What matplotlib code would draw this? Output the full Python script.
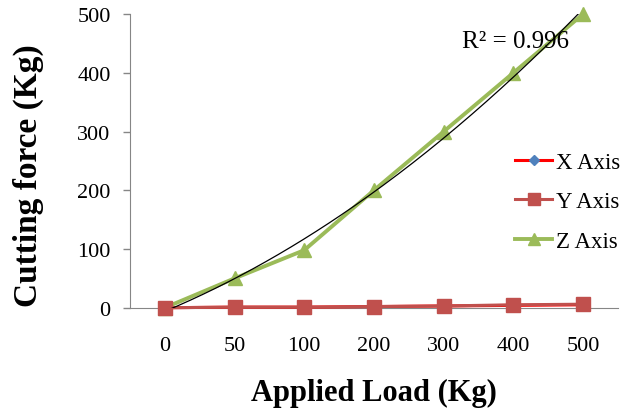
import numpy as np
import matplotlib
matplotlib.use("Agg")
import matplotlib.pyplot as plt

plt.rcParams['font.family'] = ['Liberation Serif', 'DejaVu Serif']

# data
loads = ["0", "50", "100", "200", "300", "400", "500"]
x_axis = [0, 1, 1, 2, 3, 4, 5]
y_axis = [0, 1, 1, 2, 3, 5, 6]
z_axis = [0, 50, 98, 200, 300, 400, 500]
r2_text = "R² = 0.996"

idx = np.arange(len(loads))

fig = plt.figure(figsize=(6.23, 4.10), dpi=100)
ax = fig.add_axes([0.2087, 0.247, 0.783, 0.716])

ax.plot(idx, x_axis, color="#FF0000", lw=2.2, marker="D", ms=6,
        mfc="#4F81BD", mec="#4F81BD", label="X Axis", clip_on=False, zorder=3)
ax.plot(idx, y_axis, color="#C0504D", lw=2.2, marker="s", ms=10,
        mfc="#C0504D", mec="#C0504D", label="Y Axis", clip_on=False, zorder=4)
ax.plot(idx, z_axis, color="#9BBB59", lw=2.8, marker="^", ms=10,
        mfc="#9BBB59", mec="#9BBB59", label="Z Axis", clip_on=False, zorder=3)

# polynomial trendline (order 2) on Z
coef = np.polyfit(idx + 1, z_axis, 2)
xs = np.linspace(0, 6, 200)
ax.plot(xs, np.polyval(coef, xs + 1), color="black", lw=0.9, zorder=5)
fig.text(462 / 623, 1 - 42 / 410, r2_text, fontsize=18, va="center", ha="left")

ax.set_xlim(-0.5, 6.5)
ax.set_ylim(0, 500)
ax.set_xticks(idx)
ax.set_xticklabels(loads)
ax.set_yticks([0, 100, 200, 300, 400, 500])
ax.tick_params(axis="x", length=0, pad=20, labelsize=16)
ax.tick_params(axis="y", length=5, width=1, color="#868686", direction="out", labelsize=16, pad=9)

for s in ["top", "right"]:
    ax.spines[s].set_visible(False)
ax.spines["left"].set_color("#868686")
ax.spines["bottom"].set_color("#868686")

ax.set_xlabel("Applied Load (Kg)", fontsize=22, fontweight="bold", va="center")
ax.xaxis.set_label_coords(0.501, -0.29)
ax.set_ylabel("Cutting force (Kg)", fontsize=24, fontweight="bold", va="center")
ax.yaxis.set_label_coords(-0.209, 0.455)

ax.legend(loc="upper left", bbox_to_anchor=(515 / 623, 1 - 153 / 410),
          bbox_transform=fig.transFigure, frameon=False, borderpad=0,
          fontsize=16.5, handlelength=1.62, handletextpad=0.15, labelspacing=0.8,
          borderaxespad=0, markerscale=0.8)

fig.savefig("out.png", dpi=100)
